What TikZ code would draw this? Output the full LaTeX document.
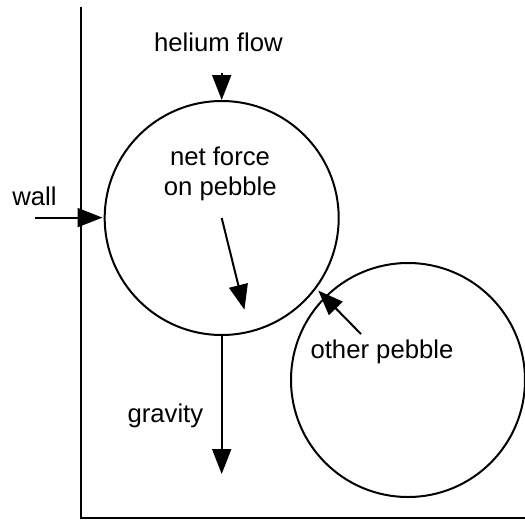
\documentclass[tikz,border=0pt]{standalone}
\usepackage{fontspec}
\setmainfont{Liberation Sans}
\usetikzlibrary{arrows.meta}
\begin{document}
\begin{tikzpicture}[x=1pt,y=-1pt, line width=2pt,
  pebble/.style={circle, draw, minimum size=234pt, inner sep=0pt},
  lbl/.style={font=\fontsize{25.7}{30}\selectfont, inner sep=0pt, anchor=base},
  force/.style={-{Triangle[length=25pt,width=19pt]}}]
\useasboundingbox (0,0) rectangle (525,520);
% pebbles
\node[pebble] (big) at (221.7,218) {};
\node[pebble] (other) at (408,380) {};
% wall and floor
\coordinate (walltop) at (80.7,7);
\coordinate (wallcorner) at (80.7,518);
\coordinate (floorend) at (526,518);
\draw (walltop) -- (wallcorner) -- (floorend);
% force arrows
\coordinate (wallstart) at (35,217.6);
\coordinate (walltip) at (102.5,217.6);
\draw[force] (wallstart) -- (walltip);
\coordinate (heliumstart) at (221.7,73);
\draw[force] (heliumstart) -- (big.north);
\coordinate (gravend) at (221.7,474);
\draw[force] (big.south) -- (gravend);
\coordinate (netend) at (244.4,309.7);
\draw[force] (big.center) -- (netend);
\coordinate (otherstart) at (361,334);
\coordinate (othertip) at (318.3,290.6);
\draw[force] (otherstart) -- (othertip);
% labels
\node[lbl] (helium) at (218.4,51.9) {helium flow};
\node[lbl] (wall) at (34.5,205) {wall};
\node[lbl] (net1) at (220,165.7) {net force};
\node[lbl] (net2) at (220.3,195.8) {on pebble};
\node[lbl] (otherlbl) at (382,358.2) {other pebble};
\node[lbl] (gravity) at (165.4,422.5) {gravity};
\end{tikzpicture}
\end{document}
